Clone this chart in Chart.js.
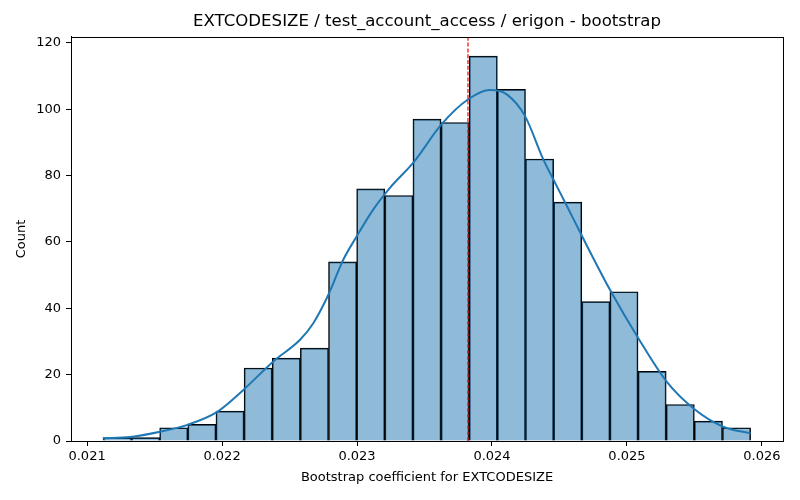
<!DOCTYPE html>
<html>
<head>
<meta charset="utf-8">
<script src="https://cdn.jsdelivr.net/npm/chart.js@4"></script>
<style>
  html, body { margin: 0; padding: 0; background: #fff; }
  #wrap { width: 800px; height: 500px; }
</style>
</head>
<body>
<div id="wrap"><canvas id="chart"></canvas></div>
<script>
// histogram of bootstrap coefficients
const binStart = 0.021121;
const binWidth = 0.00020848;
const counts = [1, 1, 4, 5, 9, 22, 25, 28, 54, 76, 74, 97, 96, 116, 106, 85, 72, 42, 45, 21, 11, 6, 4];

// kde curve, sampled by eye
const kdeX = [0.021116, 0.021319, 0.021541, 0.021739, 0.021961, 0.022158, 0.022380, 0.022578,
  0.022676, 0.022787, 0.022899, 0.022998, 0.023121, 0.023244, 0.023417, 0.023627, 0.023824,
  0.023985, 0.024109, 0.024244, 0.024380, 0.024454, 0.024553, 0.024664, 0.024874, 0.025084,
  0.025294, 0.025491, 0.025713, 0.025916];
const kdeY = [0.8, 1.2, 2.8, 4.8, 8.7, 15.4, 24, 30.5, 35.5, 44, 54.7, 61.7, 69.8, 76.3, 83.9,
  95.5, 103, 105.8, 104.5, 98, 84.9, 78.9, 71, 62, 45.6, 31, 17.9, 9.9, 4.3, 2.3];

const meanValue = 0.023822;

const xTicks = [0.021, 0.022, 0.023, 0.024, 0.025, 0.026];
const yTicks = [0, 20, 40, 60, 80, 100, 120];

const xMin = 0.020881, xMax = 0.026156;
const yMax = 121.8;

const barData = counts.map((c, i) => ({ x: binStart + binWidth * (i + 0.5), y: c }));
const kdeData = kdeX.map((x, i) => ({ x: x, y: kdeY[i] }));

const FONT = 'DejaVu Sans';

// draws the top and right spines
const frame = {
  id: 'frame',
  afterDatasetsDraw(chart) {
    const a = chart.chartArea, ctx = chart.ctx;
    ctx.save();
    ctx.strokeStyle = '#000';
    ctx.lineWidth = 1;
    ctx.strokeRect(Math.round(a.left) + 0.5, Math.round(a.top) + 0.5,
      Math.round(a.right - a.left), Math.round(a.bottom - a.top));
    ctx.restore();
  }
};

new Chart(document.getElementById('chart'), {
  type: 'bar',
  data: {
    datasets: [
      {
        type: 'line',
        data: [{ x: meanValue, y: 0 }, { x: meanValue, y: yMax }],
        borderColor: 'red',
        borderWidth: 1.2,
        borderDash: [4, 1.8],
        pointRadius: 0,
        order: 0
      },
      {
        type: 'line',
        data: kdeData,
        borderColor: '#1f77b4',
        borderWidth: 2,
        pointRadius: 0,
        cubicInterpolationMode: 'monotone',
        order: 1
      },
      {
        data: barData,
        backgroundColor: 'rgba(31, 119, 180, 0.5)',
        borderColor: '#000',
        borderWidth: 1,
        barPercentage: 1,
        categoryPercentage: 1,
        order: 2
      }
    ]
  },
  options: {
    responsive: true,
    maintainAspectRatio: false,
    animation: false,
    layout: { padding: { left: 0, right: 17, top: 0, bottom: 0 } },
    plugins: {
      legend: { display: false },
      tooltip: { enabled: false },
      title: {
        display: true,
        fullSize: false,
        text: 'EXTCODESIZE / test_account_access / erigon - bootstrap',
        color: '#000',
        font: { family: FONT, size: 16.6, weight: 'normal' },
        padding: { top: 12, bottom: 5 }
      }
    },
    scales: {
      x: {
        type: 'linear',
        min: xMin,
        max: xMax,
        offset: false,
        afterBuildTicks: (s) => { s.ticks = xTicks.map(v => ({ value: v })); },
        afterFit: (s) => { s.height = 59; },
        ticks: {
          color: '#000',
          font: { family: FONT, size: 13 },
          padding: 3,
          maxRotation: 0,
          callback: (v) => v.toFixed(3)
        },
        grid: { display: true, offset: false, drawOnChartArea: false, drawTicks: true, tickLength: 5, color: '#000' },
        border: { display: true, color: '#000', width: 1 },
        title: {
          display: true,
          text: 'Bootstrap coefficient for EXTCODESIZE',
          color: '#000',
          font: { family: FONT, size: 13 },
          padding: { top: 0, bottom: 15 }
        }
      },
      y: {
        min: 0,
        max: yMax,
        afterBuildTicks: (s) => { s.ticks = yTicks.map(v => ({ value: v })); },
        afterFit: (s) => { s.width = 71; },
        ticks: {
          color: '#000',
          font: { family: FONT, size: 13 },
          padding: 5
        },
        grid: { display: true, offset: false, drawOnChartArea: false, drawTicks: true, tickLength: 5, color: '#000' },
        border: { display: true, color: '#000', width: 1 },
        title: {
          display: true,
          text: 'Count',
          color: '#000',
          font: { family: FONT, size: 13 },
          padding: { top: 14, bottom: 0 }
        }
      }
    }
  },
  plugins: [frame]
});
</script>
</body>
</html>
